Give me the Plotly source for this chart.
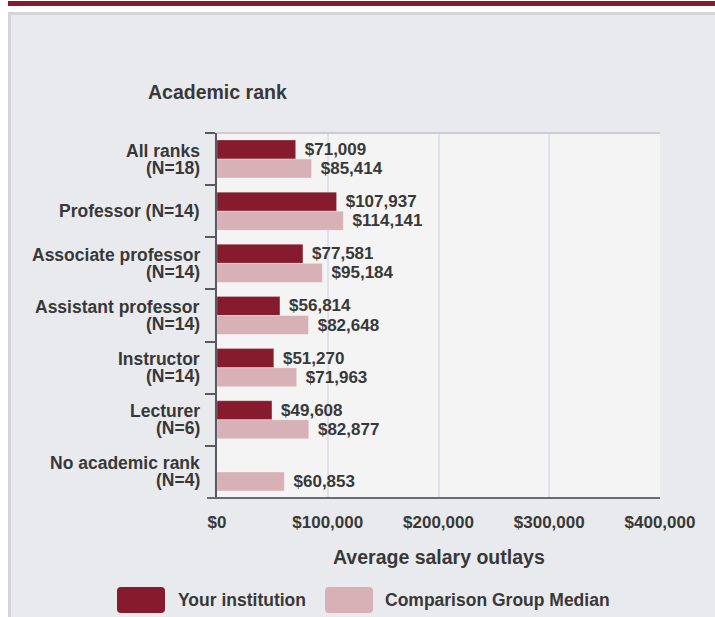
import plotly.graph_objects as go

categories = ["All ranks<br>(N=18)", "Professor (N=14)", "Associate professor<br>(N=14)",
              "Assistant professor<br>(N=14)", "Instructor<br>(N=14)", "Lecturer<br>(N=6)",
              "No academic rank<br>(N=4)"]
your_institution = [71009, 107937, 77581, 56814, 51270, 49608, None]
comparison_median = [85414, 114141, 95184, 82648, 71963, 82877, 60853]
x_ticks = [0, 100000, 200000, 300000, 400000]
x_tick_labels = ["$0", "$100,000", "$200,000", "$300,000", "$400,000"]

W, H = 715, 617
L, R, T, B = 217, 55, 133, 119
PW, PH = W - L - R, H - T - B

DARK = "#861b2d"
PINK = "#d8b1b7"
TEXT = "#383838"
FONT = "Liberation Sans, Arial, sans-serif"


def px(x):
    return (x - L) / PW


def py(y):
    return (H - B - y) / PH


def rounded_rect(x0, y0, x1, y1, r=4):
    # pixel box -> paper path with rounded corners
    rx, ry = r / PW, r / PH
    a, b, c, d = px(x0), py(y1), px(x1), py(y0)
    return (f"M {a + rx},{b} L {c - rx},{b} Q {c},{b} {c},{b + ry} "
            f"L {c},{d - ry} Q {c},{d} {c - rx},{d} L {a + rx},{d} "
            f"Q {a},{d} {a},{d - ry} L {a},{b + ry} Q {a},{b} {a + rx},{b} Z")


label_font = dict(family=FONT, size=17, color=TEXT, weight="bold")

fig = go.Figure()
fig.add_trace(go.Bar(
    y=categories, x=your_institution, orientation="h", name="Your institution",
    marker=dict(color=DARK, line=dict(color="rgba(255,255,255,0.25)", width=1)),
    texttemplate="\u00a0\u200a$%{x:,.0f}", textposition="outside", cliponaxis=False,
    textfont=label_font,
))
fig.add_trace(go.Bar(
    y=categories, x=comparison_median, orientation="h", name="Comparison Group Median",
    marker=dict(color=PINK, line=dict(color="rgba(255,255,255,0.35)", width=1)),
    texttemplate="\u00a0\u200a$%{x:,.0f}", textposition="outside", cliponaxis=False,
    textfont=label_font,
))

shapes = [
    dict(type="rect", xref="paper", yref="paper", x0=px(-5), x1=px(W + 5), y0=py(12), y1=py(-5),
         fillcolor="white", line_width=0, layer="below"),
    dict(type="rect", xref="paper", yref="paper", x0=px(-5), x1=px(8), y0=py(H + 5), y1=py(-5),
         fillcolor="white", line_width=0, layer="below"),
    dict(type="rect", xref="paper", yref="paper", x0=px(8), x1=px(W + 5), y0=py(6), y1=py(1),
         fillcolor=DARK, line_width=0, layer="below"),
    dict(type="path", xref="paper", yref="paper",
         path=f"M {px(9.5)},{py(H + 5)} L {px(9.5)},{py(13.5)} L {px(W + 5)},{py(13.5)}",
         line=dict(color="#d4d4d6", width=3), layer="below"),
    dict(type="line", xref="paper", yref="paper", x0=0, x1=1, y0=1, y1=1,
         line=dict(color="#cdcdcf", width=2), layer="above"),
    dict(type="line", xref="paper", yref="paper", x0=px(207), x1=1, y0=0, y1=0,
         line=dict(color="#6a6a6e", width=2), layer="above"),
    dict(type="path", xref="paper", yref="paper", path=rounded_rect(117, 587, 165, 613),
         fillcolor=DARK, line_width=0),
    dict(type="path", xref="paper", yref="paper", path=rounded_rect(325, 587, 373, 613),
         fillcolor=PINK, line_width=0),
]

annotations = [
    dict(text="Academic rank", xref="paper", yref="paper", x=0, y=py(92),
         xanchor="center", yanchor="middle", showarrow=False,
         font=dict(family=FONT, size=19.5, color=TEXT, weight="bold")),
    dict(text="Average salary outlays", xref="paper", yref="paper", x=0.5, y=py(557),
         xanchor="center", yanchor="middle", showarrow=False,
         font=dict(family=FONT, size=19.5, color=TEXT, weight="bold")),
    dict(text="Your institution", xref="paper", yref="paper", x=px(176), y=py(600),
         xanchor="left", yanchor="middle", showarrow=False,
         font=dict(family=FONT, size=17.5, color=TEXT, weight="bold")),
    dict(text="Comparison Group Median", xref="paper", yref="paper", x=px(383), y=py(600),
         xanchor="left", yanchor="middle", showarrow=False,
         font=dict(family=FONT, size=17.5, color=TEXT, weight="bold")),
]

# category labels, one annotation per line so the line spacing stays tight
for cat in categories:
    lines = cat.split("<br>")
    n = len(lines)
    for i, line in enumerate(lines):
        annotations.append(dict(
            text=line, xref="paper", yref="y", x=px(202), y=cat,
            xanchor="right", yanchor="middle", showarrow=False,
            yshift=(n - 1) * 8.5 - i * 17,
            font=dict(family=FONT, size=17.5, color=TEXT, weight="bold")))

fig.update_layout(
    width=W, height=H,
    margin=dict(l=L, r=R, t=T, b=B, pad=0),
    paper_bgcolor="#e9eaee",
    plot_bgcolor="#f4f4f4",
    barmode="group",
    bargap=0.27,
    bargroupgap=0,
    showlegend=False,
    shapes=shapes,
    annotations=annotations,
    xaxis=dict(
        range=[0, 400000], tickvals=x_ticks, ticktext=x_tick_labels,
        showgrid=True, gridcolor="#dfe2ec", gridwidth=2, zeroline=False,
        showline=False, ticks="", ticklabelstandoff=12,
        tickfont=label_font,
    ),
    yaxis=dict(
        autorange="reversed", showticklabels=False, showgrid=False, zeroline=False,
        showline=True, linecolor="#5a5a5e", linewidth=1.5,
        ticks="outside", tickson="boundaries", ticklen=10, tickcolor="#5a5a5e", tickwidth=1.5,
    ),
)

fig.write_html("out.html", config={"displayModeBar": False},
               post_script="document.body.style.margin='0';")
